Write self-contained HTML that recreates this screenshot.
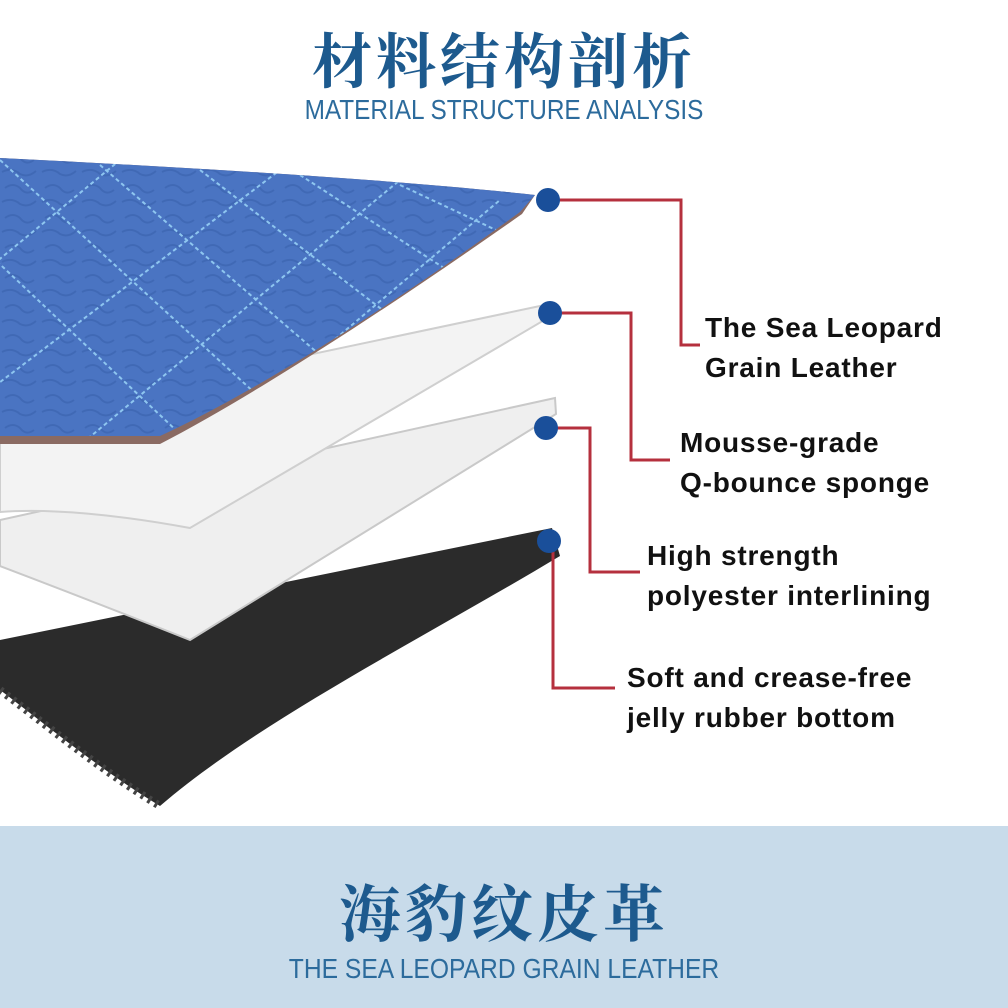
<!DOCTYPE html>
<html><head><meta charset="utf-8"><style>
html,body{margin:0;padding:0;background:#fff;}
#w{position:relative;width:1008px;height:1008px;overflow:hidden;background:#fff;}
svg{position:absolute;left:0;top:0;}
.t{position:absolute;white-space:nowrap;}
.lab{font-family:"Liberation Sans",sans-serif;font-weight:bold;font-size:28px;color:#111;line-height:40px;letter-spacing:0.8px;}
</style></head><body><div id="w">
<div style="position:absolute;left:0;top:826px;width:1008px;height:182px;background:#c8dbea;"></div>
<div class="t" style="left:0;width:1008px;text-align:center;top:33px;line-height:1;font-family:'Liberation Serif','Noto Serif CJK SC',serif;font-weight:bold;font-size:60px;color:#1d5a8e;letter-spacing:4px;">材料结构剖析</div>
<div class="t" style="left:0;width:1008px;text-align:center;top:96px;line-height:1;font-family:'Liberation Sans',sans-serif;font-size:28px;color:#2c6b9c;transform:scaleX(0.87);">MATERIAL STRUCTURE ANALYSIS</div>
<div class="t" style="left:0;width:1008px;text-align:center;top:885px;line-height:1;font-family:'Liberation Serif','Noto Serif CJK SC',serif;font-weight:bold;font-size:62px;color:#1d5a8e;letter-spacing:4px;">海豹纹皮革</div>
<div class="t" style="left:0;width:1008px;text-align:center;top:955px;line-height:1;font-family:'Liberation Sans',sans-serif;font-size:28px;color:#2c6b9c;transform:scaleX(0.88);">THE SEA LEOPARD GRAIN LEATHER</div>
<svg width="1008" height="1008">
<defs><clipPath id="lc"><path d="M0,158 C200,168 400,180 535,195 L520,212 C400,300 260,390 160,436 L0,436 Z"/></clipPath>
<pattern id="gr" width="40" height="30" patternUnits="userSpaceOnUse"><path d="M5,8 q8,-6 15,0 q6,8 14,2 M2,22 q10,-5 18,2 q8,4 16,-3" stroke="#3a62ad" stroke-width="2" fill="none"/></pattern></defs>
<path d="M0,640 L552,528 L560,556 C420,640 260,720 160,806 C100,770 40,720 0,690 Z" fill="#2b2b2b"/>
<path d="M0,690 C40,720 100,770 160,806" stroke="#444" stroke-width="8" stroke-dasharray="3 5" fill="none"/>
<path d="M0,520 L555,398 L556,414 L190,640 C120,612 50,585 0,566 Z" fill="#efefef" stroke="#c9c9c9" stroke-width="2"/>
<path d="M0,420 L540,306 L541,322 L190,528 C120,515 50,508 0,512 Z" fill="#f3f3f3" stroke="#cfcfcf" stroke-width="2"/>
<path d="M0,158 C200,168 400,180 535,195 L522,214 C400,300 260,392 160,444 L0,444 Z" fill="#8a6a62"/>
<path d="M0,158 C200,168 400,180 535,195 L520,212 C400,300 260,390 160,436 L0,436 Z" fill="#4a74c2"/>
<path d="M0,158 C200,168 400,180 535,195 L520,212 C400,300 260,390 160,436 L0,436 Z" fill="url(#gr)" opacity="0.6"/>
<g clip-path="url(#lc)" stroke="#8ec6f0" stroke-width="2" stroke-dasharray="4 3" fill="none">
<path d="M-100,170 L250,500 M0,160 L350,480 M100,165 L430,450 M200,170 L500,400 M300,175 L540,330 M400,185 L560,260"/>
<path d="M-50,300 L120,160 M-50,420 L280,170 M50,470 L400,180 M180,470 L500,200 M300,440 L560,230"/>
</g>
<g stroke="#b5303e" stroke-width="3" fill="none">
<polyline points="548,200 681,200 681,345 700,345"/>
<polyline points="550,313 631,313 631,460 670,460"/>
<polyline points="546,428 590,428 590,572 640,572"/>
<polyline points="549,541 553,541 553,688 615,688"/>
</g>
<g fill="#1a4f9a"><circle cx="548" cy="200" r="12"/><circle cx="550" cy="313" r="12"/><circle cx="546" cy="428" r="12"/><circle cx="549" cy="541" r="12"/></g>
</svg>
<div class="t lab" style="left:705px;top:308px;">The Sea Leopard<br>Grain Leather</div>
<div class="t lab" style="left:680px;top:423px;">Mousse-grade<br>Q-bounce sponge</div>
<div class="t lab" style="left:647px;top:536px;">High strength<br>polyester interlining</div>
<div class="t lab" style="left:627px;top:658px;">Soft and crease-free<br>jelly rubber bottom</div>
</div></body></html>
